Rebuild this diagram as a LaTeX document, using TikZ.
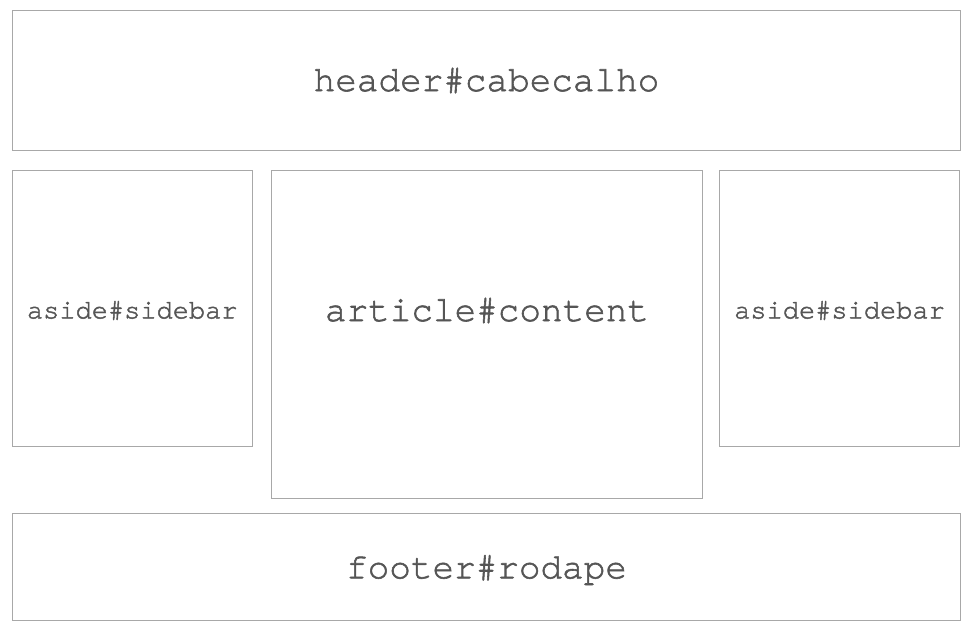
\documentclass[tikz,border=0pt]{standalone}
\usepackage{fontspec}
\setmonofont[FakeBold=1.6]{TeX Gyre Cursor}
\definecolor{boxline}{HTML}{A8A8A8}
\definecolor{txtcol}{HTML}{555555}
\begin{document}
\begin{tikzpicture}[x=1pt,y=-1pt,
  box/.style={draw=boxline, line width=1pt, inner sep=0pt, anchor=north west},
  big/.style={text=txtcol, font=\ttfamily\fontsize{36}{36}\selectfont, inner sep=0pt},
  small/.style={text=txtcol, font=\ttfamily\fontsize{27}{27}\selectfont, inner sep=0pt}]
\useasboundingbox (0,0) rectangle (976,636);
\node[box, minimum width=948pt, minimum height=140pt] (header) at (12,10) {};
\node[box, minimum width=239.5pt, minimum height=276pt] (left) at (12,170) {};
\node[box, minimum width=431pt, minimum height=327.5pt] (article) at (271,170) {};
\node[box, minimum width=240pt, minimum height=276pt] (right) at (719,170) {};
\node[box, minimum width=948pt, minimum height=107pt] (footer) at (12,513) {};
\node[big] (htxt) at (header.center) {header\#cabecalho};
\node[small] (ltxt) at ([yshift=-2pt]left.center) {aside\#sidebar};
\node[small] (rtxt) at ([yshift=-2pt]right.center) {aside\#sidebar};
\node[big] (atxt) at ([yshift=-2pt]article.center |- left.center) {article\#content};
\node[big] (ftxt) at ([yshift=-3pt]footer.center) {footer\#rodape};
\end{tikzpicture}
\end{document}
